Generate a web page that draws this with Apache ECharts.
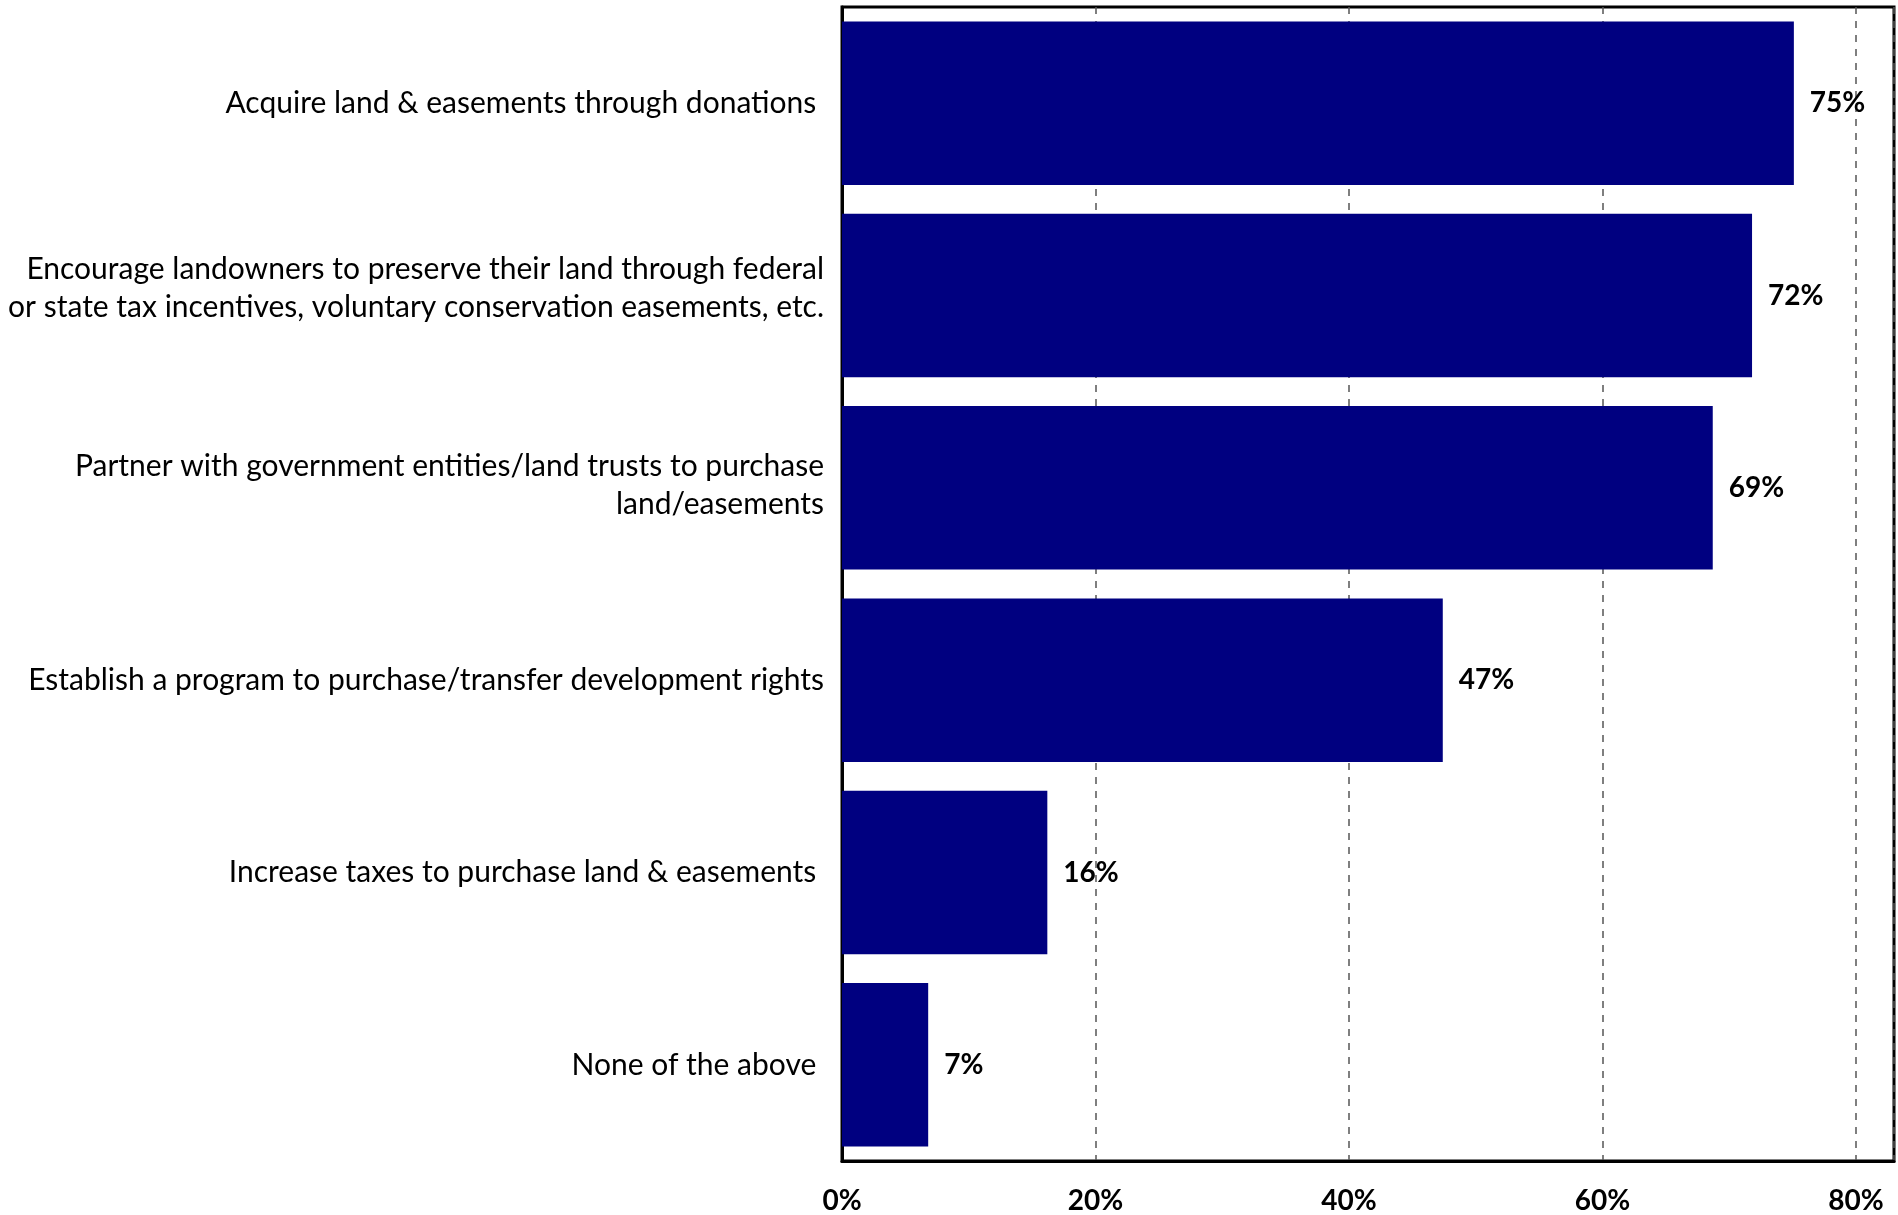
<!DOCTYPE html>
<html>
<head>
<meta charset="utf-8">
<script src="https://cdn.jsdelivr.net/npm/echarts@6/dist/echarts.min.js"></script>
<style>
html,body{margin:0;padding:0;background:#fff;}
#chart{width:1898px;height:1215px;}
</style>
</head>
<body>
<div id="chart"></div>
<script>
const categories = [
  'Acquire land & easements through donations ',
  'Encourage landowners to preserve their land through federal\nor state tax incentives, voluntary conservation easements, etc.',
  'Partner with government entities/land trusts to purchase\nland/easements',
  'Establish a program to purchase/transfer development rights',
  'Increase taxes to purchase land & easements ',
  'None of the above '
];
const values = [75.1, 71.8, 68.7, 47.4, 16.2, 6.8];
const valueLabels = ['75%', '72%', '69%', '47%', '16%', '7%'];
const xTicks = [0, 20, 40, 60, 80];

const FONT = 'Lato';
const chart = echarts.init(document.getElementById('chart'), null, {renderer: 'canvas'});
chart.setOption({
  animation: false,
  backgroundColor: '#fff',
  grid: {left: 842, right: 4, top: 7, bottom: 53, show: true, borderColor: '#000', borderWidth: 3, backgroundColor: 'transparent'},
  xAxis: {
    type: 'value', min: 0, max: 83, interval: 20,
    axisLine: {show: true, lineStyle: {color: '#000', width: 3}},
    axisTick: {show: false},
    axisLabel: {
      margin: 26, color: '#000', fontFamily: FONT, fontWeight: 'bold', fontSize: 28,
      showMaxLabel: false,
      formatter: v => xTicks.includes(v) ? v + '%' : ''
    },
    splitLine: {show: true, lineStyle: {color: '#555', type: [7, 7], width: 1.5}}
  },
  yAxis: {
    type: 'category', data: categories, inverse: true,
    axisLine: {show: true, lineStyle: {color: '#000', width: 3}},
    axisTick: {show: false},
    axisLabel: {
      margin: 18, color: '#000', fontFamily: FONT, fontSize: 30, lineHeight: 38, align: 'right',
      formatter: (v, i) => i === 1 ? v + '\n{s1| }' : (i === 2 ? v + '\n{s2| }' : v),
      rich: {s1: {lineHeight: 14, fontSize: 8}, s2: {lineHeight: 5, fontSize: 4}}
    },
    splitLine: {show: false}
  },
  series: [{
    type: 'bar', data: values, barWidth: '85%',
    itemStyle: {color: '#000080'},
    label: {
      show: true, position: 'right', distance: 16, color: '#000',
      fontFamily: FONT, fontWeight: 'bold', fontSize: 28,
      formatter: p => valueLabels[p.dataIndex]
    }
  }]
});
</script>
</body>
</html>
